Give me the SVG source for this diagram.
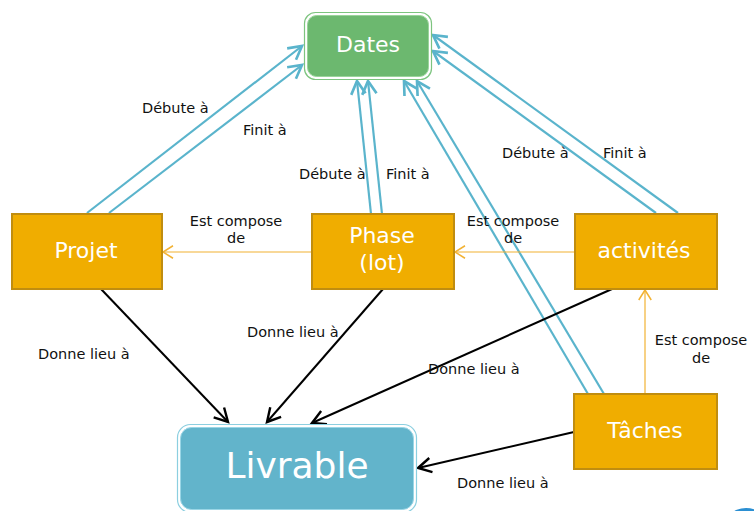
<svg xmlns="http://www.w3.org/2000/svg" width="754" height="511" viewBox="0 0 754 511">
  <style>
    .box { fill: #F0AD00; stroke: #C08D10; stroke-width: 2; }
    .boxtxt { font-family: "DejaVu Sans", "Liberation Sans", sans-serif; font-size: 22px; fill: #ffffff; text-anchor: middle; }
    .lbl { font-family: "DejaVu Sans", "Liberation Sans", sans-serif; font-size: 14.5px; fill: #111111; }
    .mid { text-anchor: middle; }
    .blue { stroke: #5AB4CC; stroke-width: 2.2; fill: none; marker-end: url(#headBlue); }
    .black { stroke: #000000; stroke-width: 2; fill: none; marker-end: url(#headBlack); }
    .orange { stroke: #F2B233; stroke-width: 1.2; fill: none; marker-end: url(#headOrange); }
  </style>
  <defs>
    <marker id="headBlue" markerUnits="userSpaceOnUse" orient="auto" markerWidth="24" markerHeight="24" viewBox="-14 -10 18 20" refX="0" refY="0">
      <path d="M-11,-6 L0,0 L-11,6" fill="none" stroke="#5AB4CC" stroke-width="2.2"/>
    </marker>
    <marker id="headBlack" markerUnits="userSpaceOnUse" orient="auto" markerWidth="24" markerHeight="24" viewBox="-14 -10 18 20" refX="0" refY="0">
      <path d="M-11,-6 L0,0 L-11,6" fill="none" stroke="#000000" stroke-width="2"/>
    </marker>
    <marker id="headOrange" markerUnits="userSpaceOnUse" orient="auto" markerWidth="20" markerHeight="20" viewBox="-12 -8 14 16" refX="0" refY="0">
      <path d="M-8,-5 L0,0 L-8,5" fill="none" stroke="#F2B233" stroke-width="1.2"/>
    </marker>
  </defs>

  <rect width="754" height="511" fill="#ffffff"/>

  <g id="connectors">
    <!-- Projet -> Dates -->
    <line class="blue" x1="87" y1="213" x2="302" y2="46"/>
    <line class="blue" x1="109" y1="213" x2="302" y2="65"/>
    <!-- Phase -> Dates -->
    <line class="blue" x1="371" y1="214" x2="357" y2="81"/>
    <line class="blue" x1="382" y1="214" x2="368" y2="81"/>
    <!-- Tâches -> Dates -->
    <line class="blue" x1="588" y1="394" x2="404" y2="81"/>
    <line class="blue" x1="604" y1="394" x2="417" y2="81"/>
    <!-- activités -> Dates -->
    <line class="blue" x1="678" y1="213" x2="433" y2="35"/>
    <line class="blue" x1="656" y1="213" x2="433" y2="51"/>

    <!-- composition links -->
    <line class="orange" x1="311" y1="252" x2="163" y2="252"/>
    <line class="orange" x1="574" y1="252" x2="455" y2="252"/>
    <line class="orange" x1="645" y1="394" x2="645" y2="290"/>

    <!-- deliverable links -->
    <line class="black" x1="101" y1="289" x2="228" y2="422"/>
    <line class="black" x1="383" y1="289" x2="267" y2="422"/>
    <line class="black" x1="612" y1="289" x2="312" y2="423"/>
    <line class="black" x1="574" y1="432" x2="418" y2="468"/>
  </g>

  <g id="dates">
    <rect x="304.5" y="12.5" width="127" height="67" rx="11" fill="#ffffff" stroke="#7DC47F" stroke-width="1.2"/>
    <rect x="307.5" y="15.5" width="121" height="61" rx="9" fill="#6CB86F" stroke="#9AD39B" stroke-width="1"/>
    <text class="boxtxt" x="368" y="52">Dates</text>
  </g>

  <g id="projet">
    <rect class="box" x="12" y="214" width="150" height="75"/>
    <text class="boxtxt" x="86" y="258">Projet</text>
  </g>

  <g id="phase">
    <rect class="box" x="312" y="214" width="142" height="75"/>
    <text class="boxtxt" x="382" y="243">Phase</text>
    <text class="boxtxt" x="382" y="270">(lot)</text>
  </g>

  <g id="activites">
    <rect class="box" x="575" y="214" width="142" height="75"/>
    <text class="boxtxt" x="644" y="258">activités</text>
  </g>

  <g id="taches">
    <rect class="box" x="574" y="394" width="143" height="75"/>
    <text class="boxtxt" x="645" y="438">Tâches</text>
  </g>

  <g id="livrable">
    <rect x="177.5" y="424.5" width="239" height="88" rx="13" fill="#ffffff" stroke="#8CCFE0" stroke-width="1.2"/>
    <rect x="180.5" y="427.5" width="233" height="82" rx="11" fill="#62B4CB" stroke="#9AD6E6" stroke-width="1"/>
    <text x="297" y="478" font-family="DejaVu Sans, Liberation Sans, sans-serif" font-size="36" fill="#ffffff" text-anchor="middle">Livrable</text>
  </g>

  <g id="labels">
    <text class="lbl" x="142" y="113">Débute à</text>
    <text class="lbl" x="243" y="135">Finit à</text>
    <text class="lbl" x="299" y="179">Débute à</text>
    <text class="lbl" x="386" y="179">Finit à</text>
    <text class="lbl" x="502" y="158">Débute à</text>
    <text class="lbl" x="603" y="158">Finit à</text>

    <text class="lbl mid" x="236" y="226">Est compose</text>
    <text class="lbl mid" x="236" y="243">de</text>
    <text class="lbl mid" x="513" y="226">Est compose</text>
    <text class="lbl mid" x="513" y="243">de</text>
    <text class="lbl mid" x="701" y="345">Est compose</text>
    <text class="lbl mid" x="701" y="363">de</text>

    <text class="lbl" x="38" y="359">Donne lieu à</text>
    <text class="lbl" x="247" y="337">Donne lieu à</text>
    <text class="lbl" x="428" y="374">Donne lieu à</text>
    <text class="lbl" x="457" y="488">Donne lieu à</text>
  </g>

  <g id="corner-mark">
    <circle cx="746" cy="532" r="24" fill="#2B8FD2"/>
  </g>
</svg>
